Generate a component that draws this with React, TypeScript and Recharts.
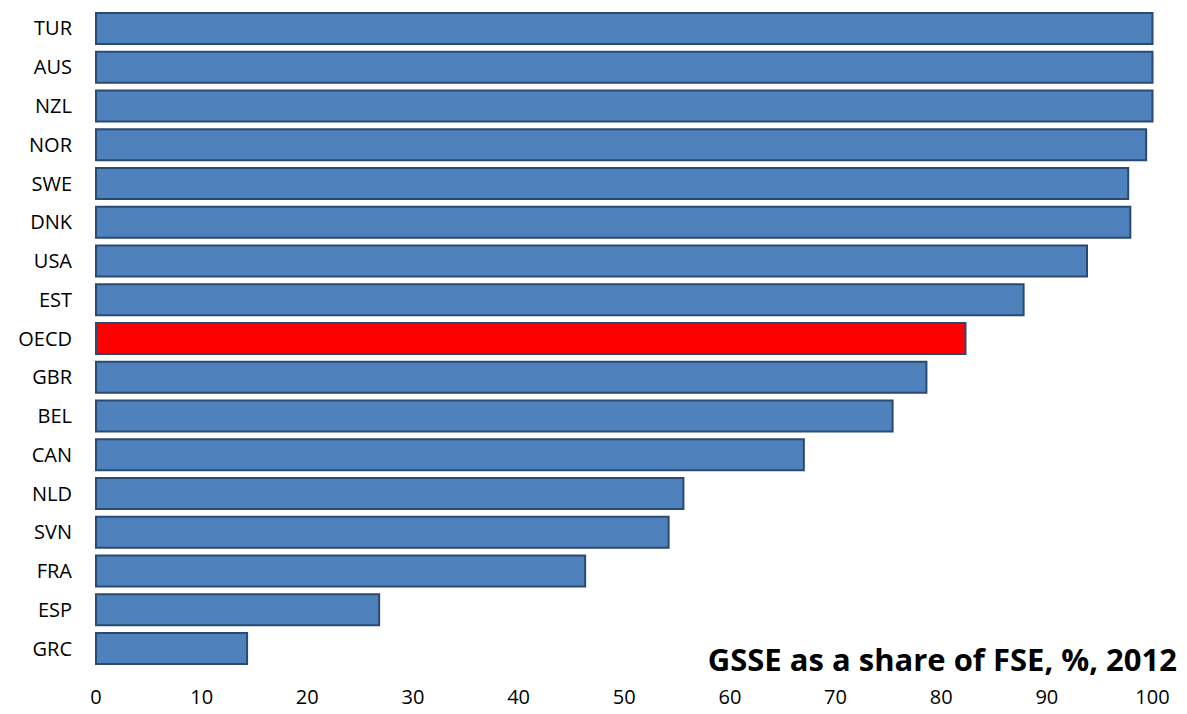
import React from "react";
import { BarChart, Bar, XAxis, YAxis, Cell } from "recharts";

const countries = ["TUR", "AUS", "NZL", "NOR", "SWE", "DNK", "USA", "EST", "OECD", "GBR", "BEL", "CAN", "NLD", "SVN", "FRA", "ESP", "GRC"];
const shares = [100, 100, 100, 99.4, 97.7, 97.9, 93.8, 87.8, 82.3, 78.6, 75.4, 67.0, 55.6, 54.2, 46.3, 26.8, 14.3];
const xTicks = [0, 10, 20, 30, 40, 50, 60, 70, 80, 90, 100];
const highlight = "OECD";
const title = "GSSE as a share of FSE, %, 2012";

const data = countries.map((name, i) => ({ name, value: shares[i] }));

const FONT = "'Open Sans', Lato, sans-serif";

export default function App() {
  return (
    <div style={{ position: "absolute", left: 0, top: 0, width: 1187, height: 714, background: "#fff" }}>
      <BarChart
        width={1187}
        height={714}
        data={data}
        layout="vertical"
        margin={{ top: 9, right: 34.5, bottom: 0, left: 0 }}
        barCategoryGap="10%"
      >
        <XAxis
          type="number"
          domain={[0, 100]}
          ticks={xTicks}
          axisLine={false}
          tickLine={false}
          tickMargin={16}
          height={46}
          interval={0}
          tick={{ fill: "#000", fontSize: 20, fontFamily: FONT }}
        />
        <YAxis
          type="category"
          dataKey="name"
          axisLine={false}
          tickLine={false}
          width={96}
          tickMargin={18}
          interval={0}
          tick={{ fill: "#000", fontSize: 20, fontFamily: FONT }}
        />
        <Bar dataKey="value" stroke="#2a4a72" strokeWidth={2} isAnimationActive={false}>
          {data.map((d) => (
            <Cell key={d.name} fill={d.name === highlight ? "#ff0000" : "#4f81bd"} />
          ))}
        </Bar>
      </BarChart>
      <svg width={1187} height={714} style={{ position: "absolute", left: 0, top: 0, pointerEvents: "none" }}>
        <text x={1177} y={671} textAnchor="end" fontFamily={FONT} fontWeight="bold" fontSize={31} fill="#000">
          {title}
        </text>
      </svg>
    </div>
  );
}
